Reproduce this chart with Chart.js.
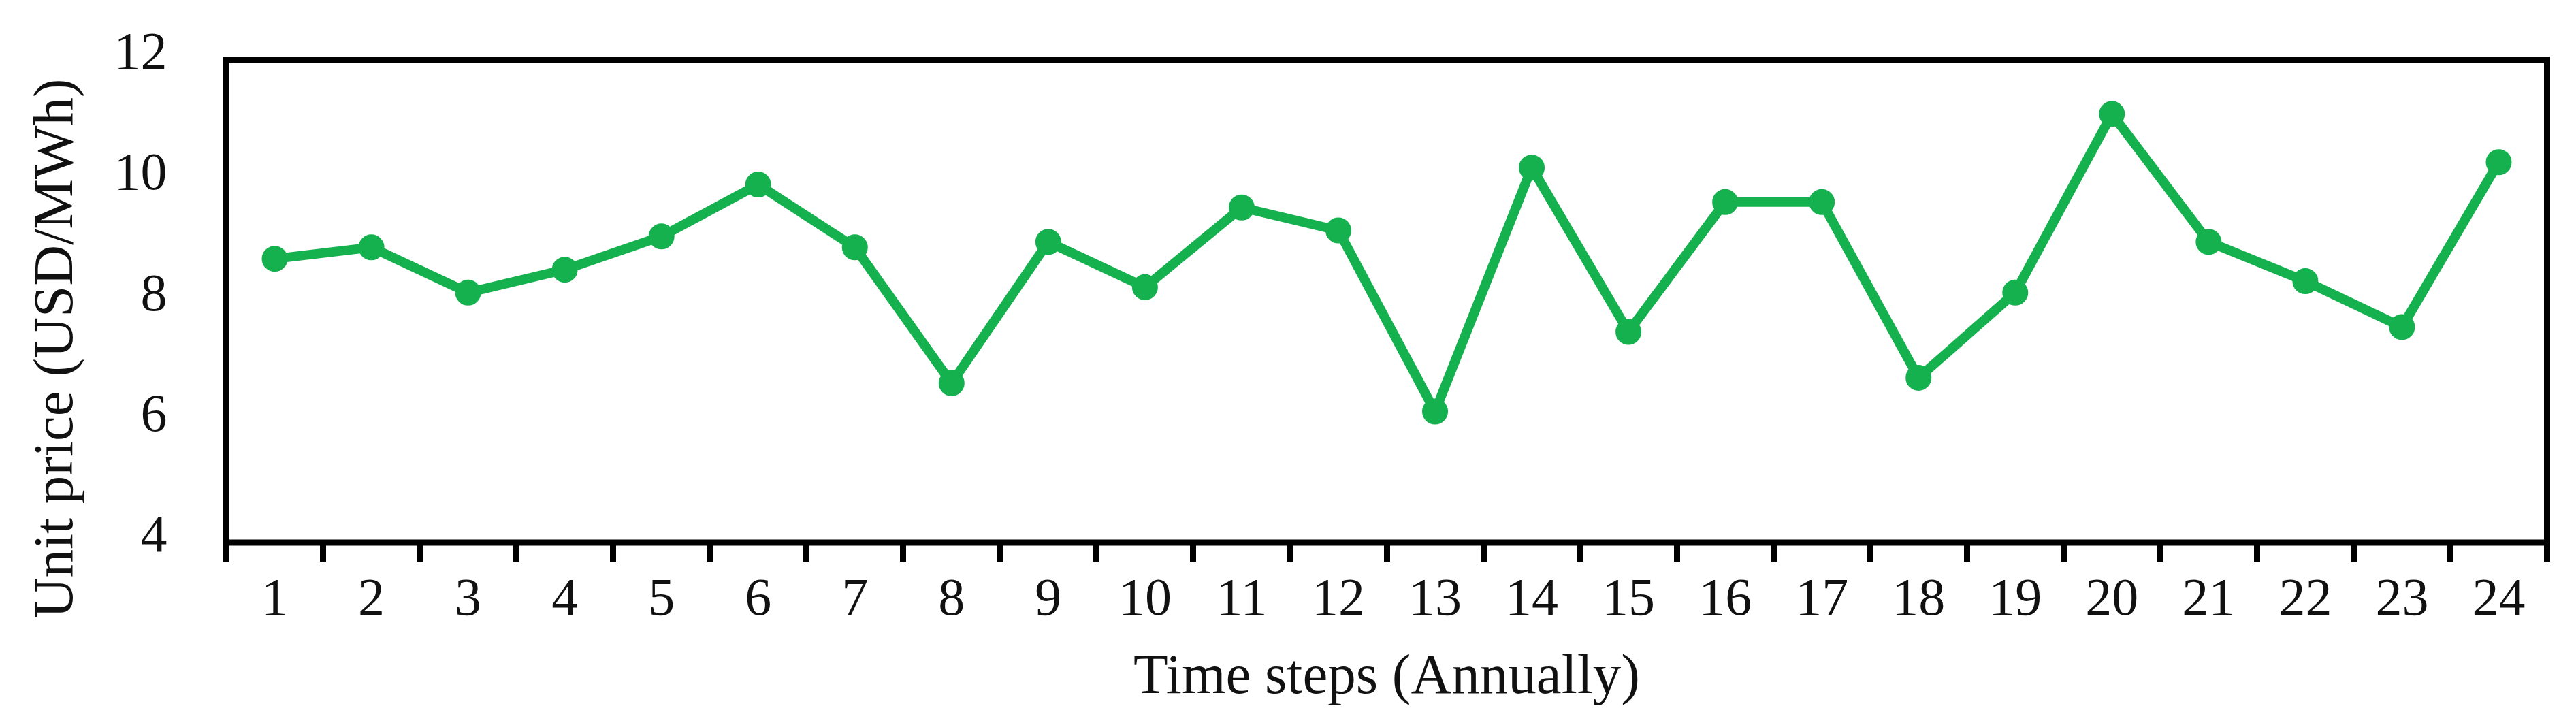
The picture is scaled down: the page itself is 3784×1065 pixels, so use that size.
<!DOCTYPE html>
<html>
<head>
<meta charset="utf-8">
<script src="https://cdn.jsdelivr.net/npm/chart.js@4/dist/chart.umd.min.js"></script>
<style>
  html, body { margin: 0; padding: 0; background: #ffffff; }
  #wrap { width: 3784px; height: 1065px; }
</style>
</head>
<body>
<div id="wrap"><canvas id="c" width="3784" height="1065"></canvas></div>
<script>
const categories = ["1","2","3","4","5","6","7","8","9","10","11","12","13","14","15","16","17","18","19","20","21","22","23","24"];
const unitPrice = [8.70, 8.89, 8.14, 8.52, 9.07, 9.93, 8.89, 6.64, 8.98, 8.23, 9.55, 9.17, 6.17, 10.21, 7.49, 9.64, 9.64, 6.73, 8.14, 11.10, 8.98, 8.33, 7.57, 10.30];
const yTicks = [4, 6, 8, 10, 12];
const xTitle = "Time steps (Annually)";
const yTitle = "Unit price (USD/MWh)";

const GREEN = '#16b14f';
const FONT = "'Liberation Serif', 'Times New Roman', serif";

const framePlugin = {
  id: 'frame',
  afterDatasetsDraw(chart) {
    const a = chart.chartArea, ctx = chart.ctx;
    ctx.save();
    ctx.strokeStyle = '#000';
    ctx.lineWidth = 9;
    ctx.strokeRect(a.left, a.top, a.right - a.left, a.bottom - a.top);
    ctx.restore();
  }
};

const yTitlePlugin = {
  id: 'yTitleText',
  afterDraw(chart) {
    const ctx = chart.ctx;
    ctx.save();
    ctx.translate(84, 512);
    ctx.rotate(-Math.PI / 2);
    ctx.font = "83px " + FONT;
    ctx.fillStyle = '#111';
    ctx.textAlign = 'center';
    ctx.textBaseline = 'middle';
    ctx.fillText(yTitle, 0, 0);
    ctx.restore();
  }
};

new Chart(document.getElementById('c'), {
  type: 'line',
  data: {
    labels: categories,
    datasets: [{
      data: unitPrice,
      borderColor: GREEN,
      backgroundColor: GREEN,
      borderWidth: 14,
      pointRadius: 18,
      pointBorderWidth: 2,
      pointBackgroundColor: GREEN,
      pointBorderColor: GREEN,
      tension: 0,
      fill: false,
      clip: false
    }]
  },
  options: {
    responsive: false,
    animation: false,
    devicePixelRatio: 1,
    layout: { padding: { left: 0, top: 87.5, right: 42.5, bottom: 0 } },
    plugins: { legend: { display: false }, tooltip: { enabled: false } },
    scales: {
      x: {
        type: 'category',
        offset: true,
        afterFit(scale) { scale.height = 268; scale.paddingLeft = 0; scale.paddingRight = 0; },
        grid: {
          display: true,
          offset: true,
          drawOnChartArea: false,
          drawTicks: true,
          tickLength: 28,
          lineWidth: 9,
          color: '#000'
        },
        border: { display: false },
        ticks: {
          color: '#111',
          font: { family: FONT, size: 78 },
          padding: 11,
          maxRotation: 0,
          autoSkip: false
        },
        title: {
          display: true,
          text: xTitle,
          color: '#111',
          font: { family: FONT, size: 83 },
          padding: { top: 0, bottom: 19 }
        }
      },
      y: {
        type: 'linear',
        min: 4,
        max: 12,
        afterFit(scale) { scale.width = 332.5; scale.paddingTop = 0; scale.paddingBottom = 0; },
        afterBuildTicks(scale) { scale.ticks = yTicks.map(v => ({ value: v })); },
        grid: { display: false, drawTicks: false },
        border: { display: false },
        ticks: {
          color: '#111',
          font: { family: FONT, size: 78 },
          padding: 87,
          labelOffset: -7
        }
      }
    }
  },
  plugins: [framePlugin, yTitlePlugin]
});
</script>
</body>
</html>
